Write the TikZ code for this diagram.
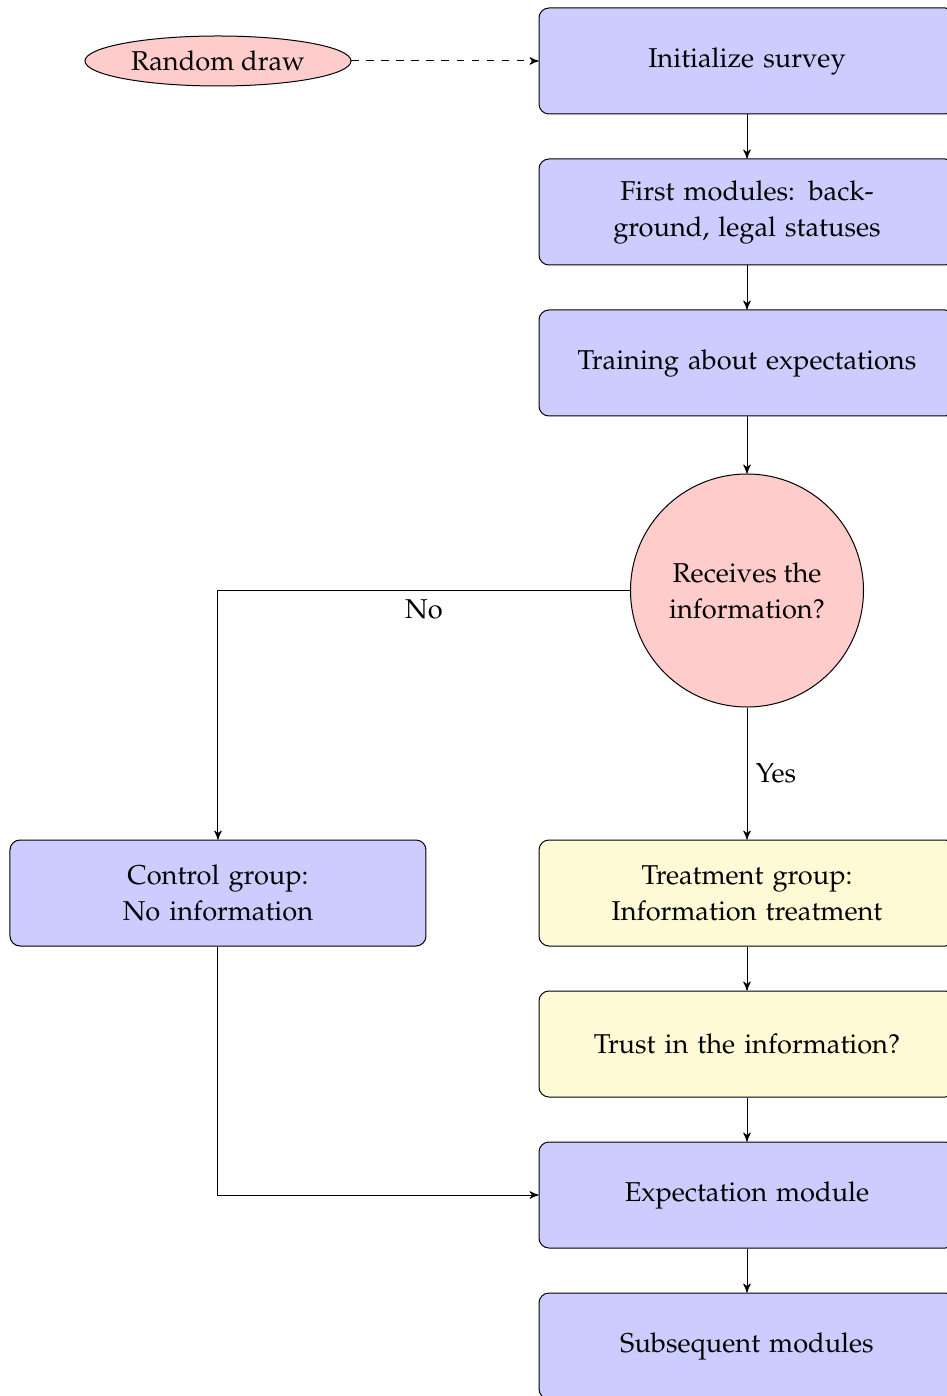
\documentclass[tikz,border=0pt]{standalone}
\usepackage[T1]{fontenc}
\usepackage{mathpazo}
\usepackage{tikz}
\usepackage{xcolor}
\usetikzlibrary{positioning, arrows}
\usetikzlibrary{shapes, positioning}

\definecolor{treatfill}{RGB}{255,250,214}

\begin{document}
\begin{tikzpicture}[
            >=stealth',
            node distance=17.6pt,
            every node/.style={font=\fontsize{10.9pt}{14.4pt}\selectfont},
            stage/.style={rectangle, rounded corners, draw, fill=blue!20, minimum width=166.4pt, minimum height=42.4pt, text width=150pt, align=center},
            treatbox/.style={stage, fill=treatfill},
            decision/.style={circle, draw, fill=red!20, minimum size=93.2pt, inner sep=1pt, align=center},
            drawbox/.style={ellipse, draw, fill=red!20, minimum width=106.4pt, minimum height=20pt, inner sep=0pt},
        ]
            \useasboundingbox (-298.8pt,24.4pt) rectangle (79.6pt,-534pt);
            % main column
            \node[stage] (init) {Initialize survey};
            \node[stage, below=of init] (first) {First modules: back-\\ground, legal statuses};
            \node[stage, below=of first] (train) {Training about expectations};
            \node[decision, below=22.8pt of train] (receive) {Receives the\\information?};
            \node[treatbox, below=52.8pt of receive] (treat) {Treatment group:\\Information treatment};
            \node[treatbox, below=of treat] (trust) {Trust in the information?};
            \node[stage, below=of trust] (expect) {Expectation module};
            \node[stage, below=of expect] (subseq) {Subsequent modules};
            % side nodes
            \node[stage, left=44.8pt of treat] (control) {Control group:\\No information};
            \node[drawbox, left=74.8pt of init] (rand) {Random draw};

            \draw[->, dashed] (rand) -- (init);
            \foreach \from/\to in {init/first, first/train, train/receive, treat/trust, trust/expect, expect/subseq}
                \draw[->] (\from) -- (\to);
            \draw[->] (receive) -- node[right] {Yes} (treat);
            \draw[->] (receive.west) -| node[pos=0.25, below] {No} (control.north);
            \draw[->] (control.south) |- (expect.west);
        \end{tikzpicture}
\end{document}
